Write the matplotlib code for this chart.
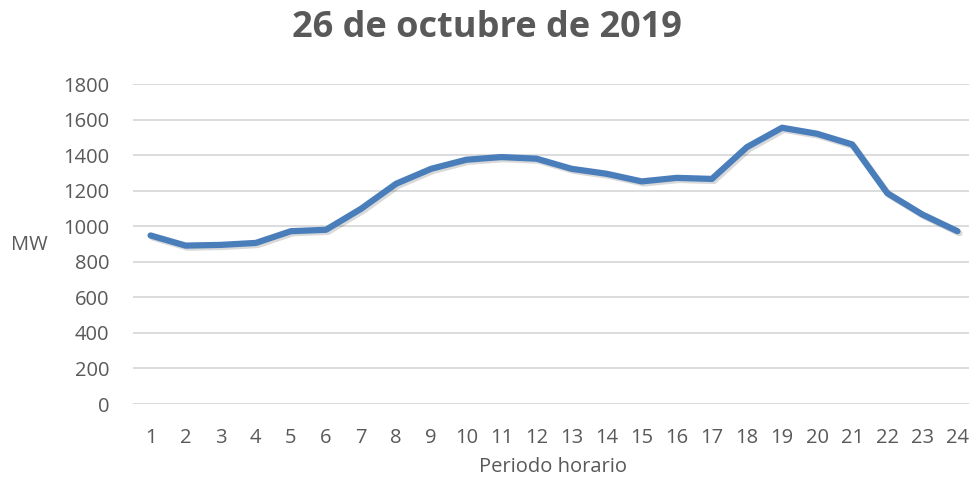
import matplotlib.pyplot as plt
import matplotlib.patheffects as pe

plt.rcParams['font.family'] = ['Open Sans', 'DejaVu Sans']

# Data
periods = list(range(1, 25))
mw = [948, 891, 895, 906, 972, 980, 1098, 1239, 1323, 1374, 1389, 1380,
      1323, 1295, 1252, 1272, 1266, 1445, 1554, 1520, 1460, 1186, 1066, 972]
y_ticks = [0, 200, 400, 600, 800, 1000, 1200, 1400, 1600, 1800]

gray = '#595959'

fig = plt.figure(figsize=(9.69, 4.8), dpi=100)
ax = fig.add_axes([133 / 969, 76 / 480, (975 - 133) / 969, 320 / 480])

ax.plot(periods, mw, color='#4a7ebb', linewidth=4.5, solid_joinstyle='round',
        solid_capstyle='round',
        path_effects=[pe.SimpleLineShadow(offset=(1.5, -1.5), alpha=0.15),
                      pe.Normal()])

ax.set_xlim(0.5, 24.5)
ax.set_ylim(0, 1800)
ax.set_xticks(periods)
ax.set_yticks(y_ticks)
ax.tick_params(axis='x', length=0, labelsize=14.5, labelcolor=gray, pad=17)
ax.tick_params(axis='y', length=0, labelsize=14.5, labelcolor=gray, pad=17)
ax.grid(axis='y', color='#d9d9d9', linewidth=1.3)
ax.set_axisbelow(True)
for s in ax.spines.values():
    s.set_visible(False)

fig.text(487 / 969, 1 - 28 / 480, '26 de octubre de 2019', ha='center', va='center',
         fontsize=26, fontweight='bold', color=gray)
fig.text(29 / 969, 1 - 245 / 480, 'MW', ha='center', va='center', fontsize=14.5, color=gray)
fig.text(553 / 969, 1 - 467 / 480, 'Periodo horario', ha='center', va='center',
         fontsize=14.5, color=gray)

fig.savefig('out.png', dpi=100)
